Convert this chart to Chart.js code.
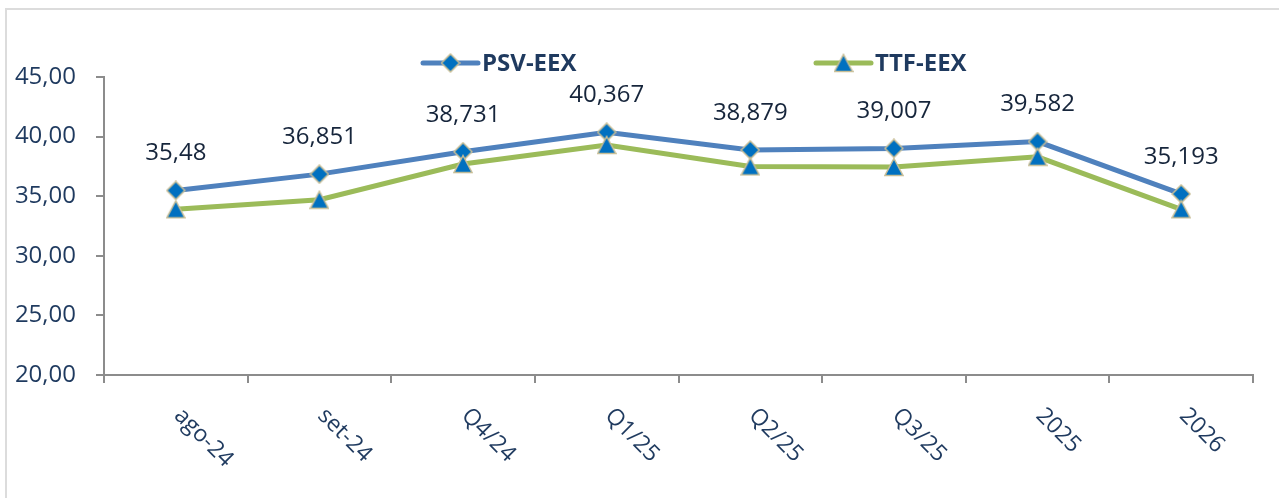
<!DOCTYPE html>
<html>
<head>
<meta charset="utf-8">
<script src="https://cdn.jsdelivr.net/npm/chart.js@4.4.1/dist/chart.umd.min.js"></script>
<style>
  body { margin: 0; background: #fff; }
  #wrap { position: relative; width: 1279px; height: 498px; overflow: hidden; }
  #frame { position: absolute; left: 5px; top: 8px; width: 1320px; height: 540px;
           border-left: 2px solid #dcdcdc; border-top: 2px solid #dcdcdc; }
  canvas { position: absolute; left: 0; top: 0; }
</style>
</head>
<body>
<div id="wrap">
  <div id="frame"></div>
  <canvas id="priceChart" width="1279" height="498"></canvas>
</div>
<script>
// --- data ---
const categories = ['ago-24', 'set-24', 'Q4/24', 'Q1/25', 'Q2/25', 'Q3/25', '2025', '2026'];
const psvValues = [35.48, 36.851, 38.731, 40.367, 38.879, 39.007, 39.582, 35.193];
const ttfValues = [33.9, 34.7, 37.7, 39.3, 37.5, 37.45, 38.3, 33.9];
const seriesNames = ['PSV-EEX', 'TTF-EEX'];
const yMin = 20, yMax = 45, yStep = 5;

const FONT = "'Open Sans', 'DejaVu Sans', sans-serif";
const TEXT_COL = '#1F3A5F';
const AXIS_COL = '#8C8C8C';

// marker images (Excel style: blue fill, tan outline)
function makeMarker(shape) {
    const c = document.createElement('canvas');
    c.width = 20; c.height = 20;
    const g = c.getContext('2d');
    g.beginPath();
    if (shape === 'diamond') {
        g.moveTo(10, 1); g.lineTo(19, 10); g.lineTo(10, 19); g.lineTo(1, 10);
    } else {
        g.moveTo(10, 1.5); g.lineTo(19, 18.5); g.lineTo(1, 18.5);
    }
    g.closePath();
    g.fillStyle = '#0070C0';
    g.fill();
    g.lineWidth = 1.5;
    g.strokeStyle = '#C8BE96';
    g.stroke();
    return c;
}
const diamond = makeMarker('diamond');
const triangle = makeMarker('triangle');

const fmt = v => String(v).replace('.', ',');

// custom legend, rotated x labels and data labels
const decorPlugin = {
    id: 'decor',
    afterDraw(chart) {
        const c = chart.ctx;
        const xs = chart.scales.x;

        // x labels, rotated +45deg
        c.save();
        c.font = '23px ' + FONT;
        c.fillStyle = TEXT_COL;
        categories.forEach((lab, i) => {
            const x = xs.getPixelForValue(i);
            c.save();
            c.translate(x + 2, 412);
            c.rotate(Math.PI / 4);
            c.textAlign = 'left';
            c.textBaseline = 'middle';
            c.fillText(lab, 0, 0);
            c.restore();
        });
        c.restore();

        // value labels above PSV points
        const meta = chart.getDatasetMeta(0);
        c.save();
        c.font = '24px ' + FONT;
        c.fillStyle = '#16253B';
        c.textAlign = 'center';
        c.textBaseline = 'middle';
        meta.data.forEach((pt, i) => {
            c.fillText(fmt(psvValues[i]), pt.x, pt.y - 37);
        });
        c.restore();

        // legend
        const items = [
            { x: 423, color: '#4F81BD', marker: diamond, name: seriesNames[0] },
            { x: 816, color: '#9BBB59', marker: triangle, name: seriesNames[1] }
        ];
        const ly = 63;
        c.save();
        items.forEach(it => {
            c.strokeStyle = it.color;
            c.lineWidth = 5;
            c.lineCap = 'round';
            c.beginPath();
            c.moveTo(it.x, ly);
            c.lineTo(it.x + 55, ly);
            c.stroke();
            c.drawImage(it.marker, it.x + 27.5 - 10, ly - 10);
            c.font = 'bold 24px ' + FONT;
            c.fillStyle = TEXT_COL;
            c.textAlign = 'left';
            c.textBaseline = 'middle';
            c.fillText(it.name, it.x + 59, ly + 1);
        });
        c.restore();
    }
};

const chart = new Chart(document.getElementById('priceChart'), {
    type: 'line',
    data: {
        labels: categories,
        datasets: [
            {
                label: seriesNames[0],
                data: psvValues,
                borderColor: '#4F81BD',
                borderWidth: 5,
                pointStyle: diamond,
                pointRadius: 9,
                tension: 0,
                fill: false,
                order: 1
            },
            {
                label: seriesNames[1],
                data: ttfValues,
                borderColor: '#9BBB59',
                borderWidth: 5,
                pointStyle: triangle,
                pointRadius: 9,
                tension: 0,
                fill: false,
                order: 0
            }
        ]
    },
    options: {
        responsive: false,
        animation: false,
        layout: { padding: { top: 77, right: 26, left: 0, bottom: 0 } },
        plugins: { legend: { display: false }, tooltip: { enabled: false } },
        scales: {
            x: {
                offset: true,
                grid: { offset: true, drawOnChartArea: false, drawTicks: true, tickLength: 8, color: AXIS_COL, lineWidth: 2 },
                border: { display: true, color: AXIS_COL, width: 2 },
                ticks: { display: false },
                afterFit: s => { s.height = 123; }
            },
            y: {
                min: yMin,
                max: yMax,
                ticks: {
                    stepSize: yStep,
                    padding: 20,
                    color: TEXT_COL,
                    font: { size: 24, family: FONT },
                    callback: v => v.toFixed(2).replace('.', ',')
                },
                grid: { drawOnChartArea: false, drawTicks: true, tickLength: 8, color: AXIS_COL, lineWidth: 2 },
                border: { display: true, color: AXIS_COL, width: 2 },
                afterFit: s => { s.width = 104; }
            }
        }
    },
    plugins: [decorPlugin]
});
</script>
</body>
</html>
